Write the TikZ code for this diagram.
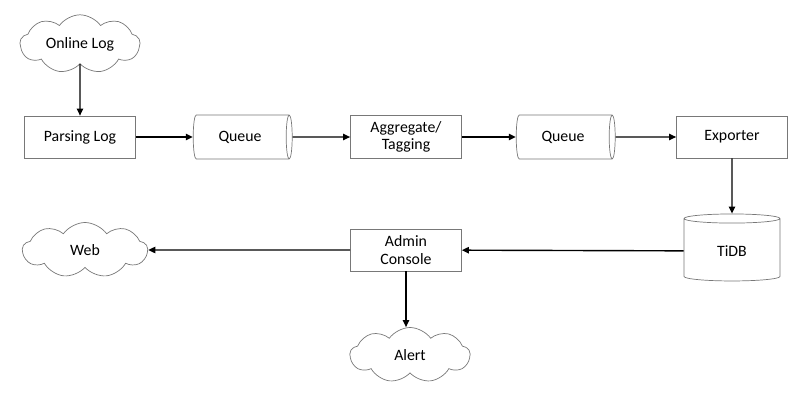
\documentclass[tikz,border=0pt]{standalone}
\usepackage{fontspec}
\setmainfont{Carlito}
\usepackage{tikz}
\usetikzlibrary{shapes.geometric, shapes.symbols, arrows.meta, positioning}
\definecolor{edgegray}{RGB}{120, 120, 120}

\begin{document}
\begin{tikzpicture}[
    node distance=2.26cm and 3.2cm, on grid,
    stage/.style={draw=edgegray, fill=white, minimum width=2.22cm, minimum height=0.84cm, font=\fontsize{9}{10}\selectfont, align=center},
    queue/.style={draw=edgegray, cylinder, shape aspect=0.25, minimum width=0.88cm, minimum height=1.98cm, font=\fontsize{9}{10}\selectfont},
    store/.style={draw=edgegray, cylinder, shape border rotate=90, shape aspect=0.22, minimum width=1.92cm, minimum height=1.34cm, font=\fontsize{9}{10}\selectfont},
    source/.style={draw=edgegray, cloud, cloud puffs=9, cloud puff arc=110, aspect=2.2, minimum width=2.4cm, minimum height=1.1cm, inner sep=0pt, font=\fontsize{9}{10}\selectfont},
    arrow/.style={-{Triangle[length=4pt, width=3.6pt]}, line width=0.8pt, black}
]
    \useasboundingbox (0,0) rectangle (16.16,-8.28);

    % Nodes - top row
    \node[source] (online) at (1.6,-0.88) {Online Log};
    \node[stage, below=1.86cm of online] (parsing) {Parsing Log};
    \node[queue, right=3.2cm of parsing] (queue1) {Queue};
    \node[stage, right=3.32cm of queue1] (aggregate) {Aggregate/\\Tagging};
    \node[queue, right=3.14cm of aggregate] (queue2) {Queue};
    \node[stage, right=3.38cm of queue2] (exporter) {Exporter};

    % Nodes - bottom row
    \node[store, below=2.28cm of exporter] (tidb) {TiDB};
    \node[stage, below=of aggregate] (admin) {Admin\\Console};
    \node[source, below=of parsing, xshift=0.1cm, minimum width=2.5cm, minimum height=1.1cm] (web) {Web};
    \node[source, below=2.1cm of admin, xshift=0.08cm] (alert) {Alert};

    % Arrows
    \draw[arrow] (online) -- (parsing);
    \draw[arrow] (parsing) -- (queue1);
    \draw[arrow] (queue1) -- (aggregate);
    \draw[arrow] (aggregate) -- (queue2);
    \draw[arrow] (queue2) -- (exporter);
    \draw[arrow] (exporter) -- (tidb);
    \draw[arrow] (tidb) -- (admin);
    \draw[arrow] (admin) -- (web);
    \draw[arrow] (admin.south) -- (admin.south |- alert.north);
\end{tikzpicture}
\end{document}
